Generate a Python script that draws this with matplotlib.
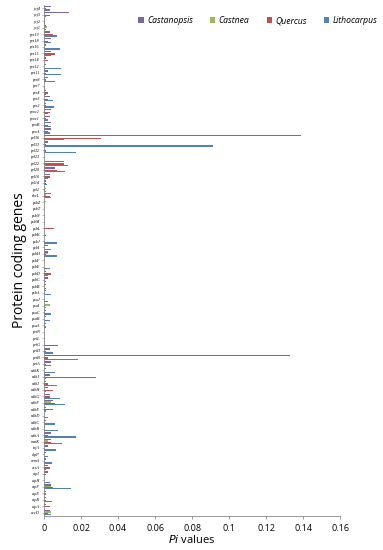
import matplotlib
matplotlib.use("Agg")
import matplotlib.pyplot as plt
import numpy as np

genes = ["ycf4","ycf3","ycf2","ycf1","rps19","rps18","rps16","rps15","rps14","rps12",
         "rps11","rps8","rps7","rps4","rps3","rps2","rpoc2","rpoc1","rpoB","rpoA",
         "rpl36","rpl33","rpl32","rpl23","rpl22","rpl20","rpl16","rpl14","rpl2","rbcL",
         "psbZ","psbT","psbN","psbM","psbL","psbK","psbJ","psbI","psbH","psbF",
         "psbE","psbD","psbC","psbB","psbA","psaJ","psaI","psaC","psaB","psaA",
         "petN","petL","petG","petD","petB","petA","ndhK","ndhJ","ndhI","ndhH",
         "ndhG","ndhF","ndhE","ndhD","ndhC","ndhB","ndhA","matK","infA","clpP",
         "cemA","ccsA","atpI","atpH","atpF","atpE","atpB","atpA","accD"]

castanopsis = [0.004,0.0135,0.0005,0.001,0.003,0.004,0.001,0.004,0.001,0.001,
               0.002,0.002,0.0,0.001,0.003,0.001,0.004,0.003,0.004,0.004,
               0.139,0.002,0.0,0.0,0.011,0.006,0.003,0.001,0.0005,0.004,
               0.0,0.0,0.0,0.0,0.0,0.0,0.0,0.002,0.002,0.0,
               0.0,0.001,0.002,0.001,0.001,0.0,0.0,0.001,0.001,0.001,
               0.0,0.0,0.0,0.003,0.133,0.004,0.001,0.003,0.001,0.002,
               0.003,0.005,0.001,0.0,0.001,0.0005,0.004,0.004,0.002,0.001,
               0.001,0.002,0.002,0.0,0.004,0.001,0.001,0.001,0.003]
castnea = [0.0005,0.0,0.0,0.0015,0.0,0.0,0.0,0.0,0.0,0.0,
           0.0,0.0,0.0,0.0,0.0,0.0,0.0005,0.0,0.0005,0.0,
           0.0,0.0,0.0,0.0,0.0,0.0,0.0,0.0005,0.001,0.001,
           0.0008,0.0,0.0,0.0,0.0,0.0,0.0,0.0,0.002,0.0,
           0.0,0.0,0.0,0.0,0.0,0.0,0.003,0.0,0.0,0.0,
           0.0,0.0,0.0,0.0,0.0,0.0,0.0,0.0,0.0,0.0,
           0.0,0.004,0.0,0.0,0.0,0.0,0.0,0.002,0.0,0.0,
           0.0,0.0,0.0,0.0,0.004,0.0,0.0,0.0,0.004]
quercus = [0.001,0.003,0.0003,0.0005,0.005,0.002,0.0,0.006,0.002,0.0,
           0.001,0.001,0.0,0.002,0.002,0.001,0.003,0.001,0.002,0.002,
           0.031,0.001,0.001,0.0,0.011,0.007,0.003,0.001,0.0005,0.003,
           0.0,0.0,0.0,0.0,0.0055,0.0008,0.0,0.0,0.001,0.0,
           0.0,0.004,0.0,0.0,0.0,0.0,0.0,0.0,0.0,0.0,
           0.0,0.0,0.0077,0.001,0.002,0.001,0.0,0.028,0.002,0.005,
           0.003,0.006,0.005,0.0,0.0,0.0,0.002,0.004,0.0,0.0,
           0.0,0.003,0.001,0.0,0.005,0.001,0.001,0.003,0.002]
lithocarpus = [0.003,0.001,0.0005,0.0008,0.007,0.004,0.0085,0.004,0.0,0.009,
               0.0093,0.006,0.0003,0.001,0.005,0.0055,0.002,0.002,0.004,0.003,
               0.011,0.0915,0.0175,0.0,0.013,0.0115,0.002,0.0015,0.001,0.004,
               0.0,0.0,0.0,0.0,0.0,0.0,0.007,0.004,0.007,0.0,
               0.003,0.002,0.001,0.001,0.004,0.002,0.001,0.0035,0.003,0.001,
               0.0,0.0,0.0,0.005,0.0185,0.004,0.006,0.001,0.007,0.001,
               0.0085,0.0115,0.001,0.002,0.006,0.0078,0.017,0.0098,0.0065,0.002,
               0.0045,0.001,0.0,0.003,0.0143,0.0,0.0045,0.0,0.004]

series_names = ["Castanopsis", "Castnea", "Quercus", "Lithocarpus"]
series_vals = [castanopsis, castnea, quercus, lithocarpus]
colors = ["#8064A2", "#9BBB59", "#C0504D", "#4F81BD"]
xticks = [0, 0.02, 0.04, 0.06, 0.08, 0.1, 0.12, 0.14, 0.16]

plt.rcParams['font.family'] = ['Open Sans', 'DejaVu Sans']

fig = plt.figure(figsize=(3.83, 5.5), dpi=100)
ax = fig.add_axes([0.115, 0.062, 0.773, 0.929])

n = len(genes)
pos = np.arange(n)
h = 0.2
for i, (name, vals, c) in enumerate(zip(series_names, series_vals, colors)):
    ax.barh(pos - 0.3 + i * h, vals, height=h, color=c, label=name, linewidth=0)

ax.set_ylim(n - 0.5, -0.5)
ax.set_xlim(0, 0.16)
ax.set_yticks(pos)
ax.set_yticklabels(genes, fontsize=3.0, fontstyle='italic', family='Liberation Serif')
ax.set_xticks(xticks)
ax.set_xticklabels([f"{t:g}" for t in xticks], fontsize=6.5)
for s in ["top", "right"]:
    ax.spines[s].set_visible(False)
for s in ["left", "bottom"]:
    ax.spines[s].set_color("#888888")
    ax.spines[s].set_linewidth(0.6)
ax.tick_params(axis='x', length=2.5, width=0.6, color="#888888", pad=3)
ax.tick_params(axis='y', length=1.5, width=0.4, color="#888888", pad=1.5)

ax.set_xlabel(r"$\it{Pi}$ values", fontsize=8, labelpad=1)
ax.set_ylabel("Protein coding genes", fontsize=10, labelpad=2)

leg = fig.legend(loc='upper right', bbox_to_anchor=(0.995, 0.977), ncol=4, frameon=False,
                 fontsize=6.2, handlelength=0.6, handleheight=0.6, handletextpad=0.4,
                 columnspacing=2.0, borderaxespad=0)
for t in leg.get_texts():
    t.set_fontstyle('italic')

fig.savefig("out.png", dpi=100)
